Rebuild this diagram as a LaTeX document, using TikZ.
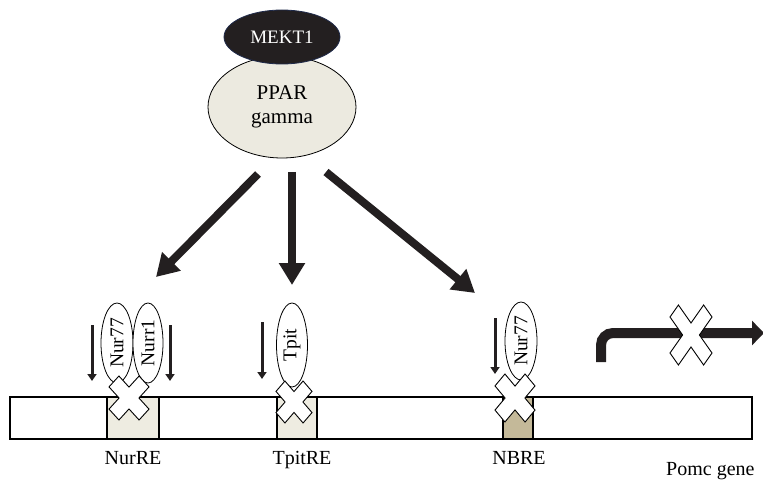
\documentclass[tikz,border=0pt]{standalone}
\usepackage{fontspec}
\setmainfont{Liberation Serif}
\usetikzlibrary{shapes.geometric,arrows.meta}
\definecolor{mektfill}{HTML}{231F20}
\definecolor{mektdraw}{HTML}{1F2A4A}
\definecolor{pparfill}{HTML}{ECEAE0}
\definecolor{boxlight}{HTML}{EEECE1}
\definecolor{boxtan}{HTML}{C4B999}
\definecolor{ink}{HTML}{231F20}
\tikzset{
  bigarrow/.style={draw=ink,line width=8pt,-{Triangle[length=22pt,width=25pt]}},
  smallarrow/.style={draw=ink,line width=3pt,-{Triangle[length=7pt,width=9pt]}},
  factor/.style={ellipse,draw,fill=white,line width=0.8pt,inner sep=0pt,rotate=90,font=\fontsize{19.5}{20}\selectfont},
  site/.style={draw,line width=1.2pt,inner sep=0pt},
  lbl/.style={font=\fontsize{20}{20}\selectfont,inner sep=0pt,anchor=base},
  crossstyle/.style={draw,fill=white,line width=0.9pt,line join=miter},
}
\newcommand\xcross[5]{%
  \pgfmathsetmacro\xcext{(1+#5)/sqrt(2)}%
  \begin{scope}[shift={(#1,#2)},xscale=#3/\xcext,yscale=#4/\xcext]
    \begin{scope}[rotate=45]
      \draw[crossstyle] (#5,#5)--(#5,1)--(-#5,1)--(-#5,#5)--(-1,#5)--(-1,-#5)--(-#5,-#5)--(-#5,-1)--(#5,-1)--(#5,-#5)--(1,-#5)--(1,#5)--cycle;
    \end{scope}
  \end{scope}}
\begin{document}
\begin{tikzpicture}[x=1pt,y=-1pt]
\useasboundingbox (0,0) rectangle (763,481);
\clip (0,0) rectangle (763,481);
% regulators
\node[ellipse,draw,fill=pparfill,line width=0.8pt,minimum width=148pt,minimum height=102pt,inner sep=0pt,align=center,font=\fontsize{21}{24}\selectfont] (ppar) at (282,107) {PPAR\\gamma};
\node[ellipse,draw=mektdraw,fill=mektfill,line width=0.8pt,minimum width=116pt,minimum height=54pt,inner sep=0pt,text=white,font=\fontsize{19}{20}\selectfont] (mekt) at (282,37) {MEKT1};
% big arrows
\coordinate (a1s) at (258,174); \coordinate (a1e) at (156,277);
\coordinate (a2s) at (292,172); \coordinate (a2e) at (292,285);
\coordinate (a3s) at (326,172); \coordinate (a3e) at (475,293);
\draw[bigarrow] (a1s) -- (a1e);
\draw[bigarrow] (a2s) -- (a2e);
\draw[bigarrow] (a3s) -- (a3e);
% DNA bar
\node[site,fill=white,minimum width=742pt,minimum height=42pt] (bar) at (381,418) {};
\node[site,fill=boxlight,minimum width=52pt,minimum height=42pt] (nurre) at (133,418) {};
\node[site,fill=boxlight,minimum width=40pt,minimum height=42pt] (tpitre) at (297,418) {};
\node[site,fill=boxtan,minimum width=30pt,minimum height=42pt] (nbre) at (518,418) {};
% factors
\node[factor,minimum width=80pt,minimum height=32pt] (nur77a) at (117,343) {Nur77};
\node[factor,minimum width=80pt,minimum height=30pt] (nurr1) at (148,343) {Nurr1};
\node[factor,minimum width=84pt,minimum height=31pt] (tpit) at (292,345) {Tpit};
\node[factor,minimum width=78pt,minimum height=32pt] (nur77b) at (521,341) {Nur77};
% small arrows
\coordinate (s1s) at (92,325); \coordinate (s1e) at (92,381);
\coordinate (s2s) at (170,325); \coordinate (s2e) at (170,381);
\coordinate (s3s) at (262,322); \coordinate (s3e) at (262,379);
\coordinate (s4s) at (495,318); \coordinate (s4e) at (495,374);
\draw[smallarrow] (s1s) -- (s1e);
\draw[smallarrow] (s2s) -- (s2e);
\draw[smallarrow] (s3s) -- (s3e);
\draw[smallarrow] (s4s) -- (s4e);
% crosses on sites
\xcross{129}{398}{20}{22}{0.33}
\xcross{294}{402}{18}{21}{0.33}
\xcross{515}{398}{20}{24}{0.33}
% promoter arrow
\coordinate (ps) at (601,362);
\coordinate (pc) at (601,333);
\coordinate (pe) at (764,333);
\draw[draw=ink,line width=10pt,rounded corners=12pt,-{Triangle[length=12pt,width=24pt]}] (ps) -- (pc) -- (pe);
\xcross{691}{335}{21}{30}{0.25}
% labels
\node[lbl] (l1) at (133,464) {NurRE};
\node[lbl] (l2) at (302,464) {TpitRE};
\node[lbl] (l3) at (519,464) {NBRE};
\node[lbl,anchor=base west] (l4) at (666,475) {Pomc gene};
\end{tikzpicture}
\end{document}
